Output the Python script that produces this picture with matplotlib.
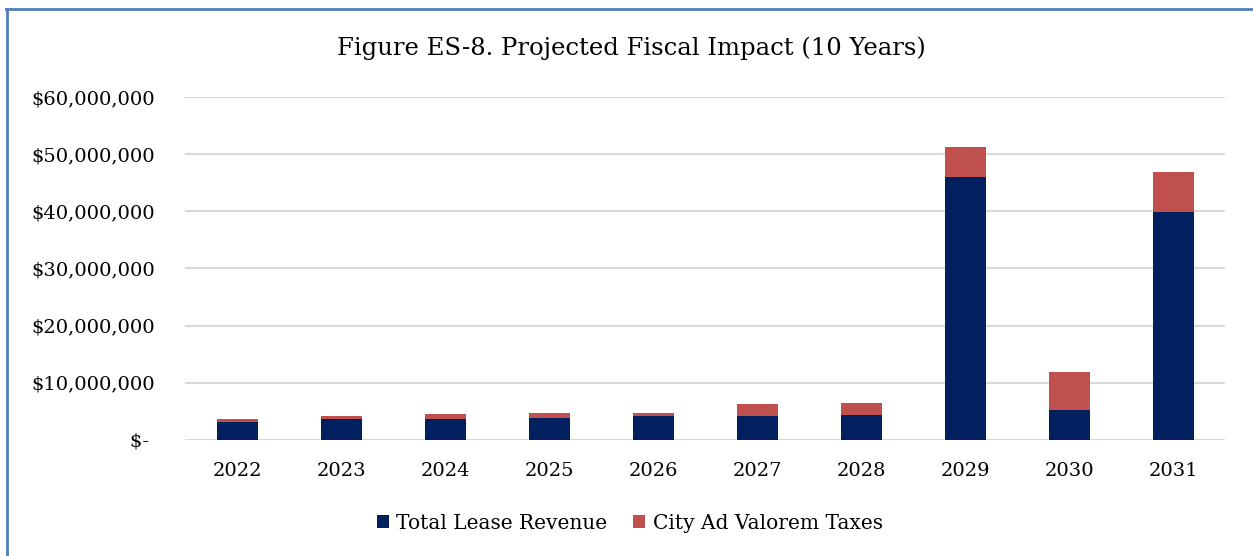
import matplotlib.pyplot as plt
from matplotlib.lines import Line2D
from matplotlib.ticker import FuncFormatter

years = ["2022", "2023", "2024", "2025", "2026", "2027", "2028", "2029", "2030", "2031"]
lease_revenue = [3200000, 3600000, 3670000, 3900000, 4080000, 4140000, 4300000, 46000000, 5300000, 39900000]
ad_valorem = [470000, 650000, 760000, 760000, 640000, 2160000, 2170000, 5200000, 6600000, 6900000]

navy = "#002060"
red = "#C0504D"
plt.rcParams["font.family"] = ["DejaVu Serif"]

fig = plt.figure(figsize=(12.53, 5.56), dpi=100)
ax = fig.add_axes([0.148, 0.209, 0.83, 0.6165])

x = range(len(years))
ax.bar(x, lease_revenue, width=0.4, color=navy, label="Total Lease Revenue", zorder=3)
ax.bar(x, ad_valorem, width=0.4, bottom=lease_revenue, color=red,
       label="City Ad Valorem Taxes", zorder=3)

ax.set_xlim(-0.5, len(years) - 0.5)
ax.set_ylim(0, 60000000)
ax.set_yticks(range(0, 60000001, 10000000))

def money(v, pos):
    if v == 0:
        return "$- "
    return "${:,.0f}".format(v)

ax.yaxis.set_major_formatter(FuncFormatter(money))
ax.set_xticks(list(x))
ax.set_xticklabels(years)
ax.tick_params(axis="both", length=0, labelsize=14, colors="black")
ax.tick_params(axis="y", pad=22)
ax.tick_params(axis="x", pad=16)
ax.grid(axis="y", color="#d9d9d9", linewidth=1.5, zorder=0)
for s in ax.spines.values():
    s.set_visible(False)

fig.text(0.5036, 0.913, "Figure ES-8. Projected Fiscal Impact (10 Years)",
         ha="center", va="center", fontsize=17.5)

handles, labels = ax.get_legend_handles_labels()
fig.legend(handles, labels, loc="center", bbox_to_anchor=(0.5025, 0.059), ncol=2,
           frameon=False, fontsize=14.5, handlelength=0.62, handleheight=0.62,
           handletextpad=0.36, columnspacing=1.25)

# blue frame around the chart (top and left edges)
fig.add_artist(Line2D([6 / 1253, 1.0], [1 - 8.5 / 556, 1 - 8.5 / 556],
                      transform=fig.transFigure, color="#4F81BD", linewidth=2))
fig.add_artist(Line2D([6.5 / 1253, 6.5 / 1253], [0, 1 - 8.5 / 556],
                      transform=fig.transFigure, color="#4F81BD", linewidth=2))

fig.savefig("out.png", dpi=100, facecolor="white")
